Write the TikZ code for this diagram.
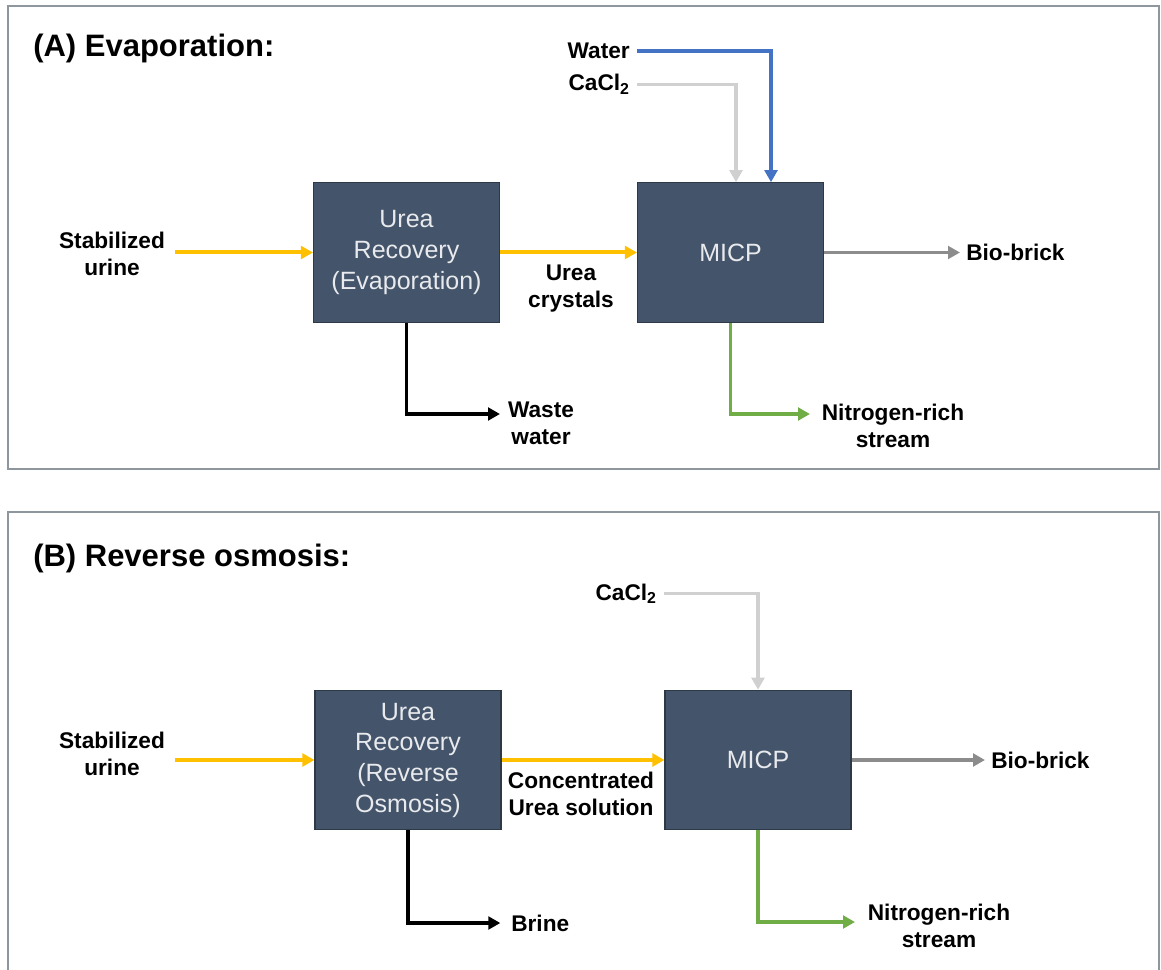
\documentclass[tikz,border=0pt]{standalone}
\usepackage{fontspec}
\setmainfont{Liberation Sans}
\usetikzlibrary{arrows.meta,calc}
\definecolor{boxfill}{HTML}{44546A}
\definecolor{boxline}{HTML}{2E3947}
\definecolor{frameclr}{HTML}{8E969E}
\definecolor{yel}{HTML}{FFC000}
\definecolor{blu}{HTML}{4472C4}
\definecolor{lgr}{HTML}{D0D0D0}
\definecolor{mgr}{HTML}{8C8C8C}
\definecolor{grn}{HTML}{70AD47}
\definecolor{boxtext}{HTML}{E8EAED}
\begin{document}
\begin{tikzpicture}[x=0.75pt,y=-0.75pt,
  procbox/.style={draw=boxline, line width=0.8pt, fill=boxfill, text=boxtext,
    minimum width=139.5pt, minimum height=104.6pt, inner sep=0pt, align=center,
    font=\fontsize{18.75}{23}\selectfont},
  lbl/.style={align=center, inner sep=0pt, font=\bfseries\fontsize{17}{20.25}\selectfont},
  ttl/.style={anchor=west, inner sep=0pt, font=\bfseries\fontsize{23.25}{28}\selectfont},
  flow/.style={line width=2.6pt, -{Triangle[length=9pt,width=9.5pt]}},
  yflow/.style={flow, draw=yel, line width=3pt},
  bflow/.style={flow, draw=blu, line width=3pt},
  lgflow/.style={flow, draw=lgr},
  grayflow/.style={flow, draw=mgr},
  kflow/.style={flow, draw=black},
  gflow/.style={flow, draw=grn},
  panel/.style={draw=frameclr, line width=1.8pt}
]
\useasboundingbox (0,0) rectangle (1161,970);
\clip (0,0) rectangle (1161,970);

% panel frames
\draw[panel] (8,6) rectangle (1159,469);
\draw[panel] (8,990) -- (8,512) -- (1159,512) -- (1159,990);

% ---------- Panel A ----------
\node[ttl] (ttlA) at (33,48) {(A) Evaporation:};
\node[procbox] (recA) at (406.5,252.5) {Urea\\Recovery\\(Evaporation)};
\node[procbox] (micpA) at (730.5,252.5) {MICP};

\node[lbl] (suA) at (112,253.5) {Stabilized\\urine};
\node[lbl] (ucA) at (571,288.5) {Urea\\crystals};
\node[lbl, anchor=west] (bbA) at (966,252.5) {Bio-brick};
\node[lbl] (wwA) at (541,423.5) {Waste\\water};
\node[lbl] (nrA) at (893,425.5) {Nitrogen-rich\\stream};
\node[lbl, anchor=base east] (watA) at (630,59) {Water};
\node[lbl, anchor=base east] (caA) at (630,91) {CaCl\textsubscript{2}};

\coordinate (yA0) at (175,252.5);
\coordinate (wwA0) at (500,414);
\coordinate (nrA0) at (810,414);

\draw[yflow] (yA0) -- (recA.west);
\draw[yflow] (recA.east) -- (micpA.west);
\draw[grayflow, shorten >=4.5pt] (micpA.east) -- (micpA.east -| bbA.west);
\draw[kflow] (recA.south) |- (wwA0);
\draw[gflow] (micpA.south) |- (nrA0);
\draw[lgflow, shorten <=5.5pt] (caA.east) -| ($(micpA.north)+(5.5,0)$);
\draw[bflow, shorten <=5.5pt] (watA.east) -| ($(micpA.north)+(40.5,0)$);

% ---------- Panel B ----------
\node[ttl] (ttlB) at (33,558) {(B) Reverse osmosis:};
\node[procbox] (recB) at (408,760) {Urea\\Recovery\\(Reverse\\Osmosis)};
\node[procbox] (micpB) at (758,760) {MICP};

\node[lbl] (suB) at (112,753.5) {Stabilized\\urine};
\node[lbl] (concB) at (581,794) {Concentrated\\Urea solution};
\node[lbl, anchor=west] (bbB) at (991,760) {Bio-brick};
\node[lbl, anchor=west] (brB) at (511,923) {Brine};
\node[lbl] (nrB) at (939,926) {Nitrogen-rich\\stream};
\node[lbl, anchor=base east] (caB) at (657,600) {CaCl\textsubscript{2}};

\coordinate (yB0) at (175,760);
\coordinate (nrB0) at (855,922);

\draw[yflow] (yB0) -- (recB.west);
\draw[yflow] (recB.east) -- (micpB.west);
\draw[grayflow, shorten >=4.5pt] (micpB.east) -- (micpB.east -| bbB.west);
\draw[kflow, shorten >=8pt] (recB.south) |- (brB.west);
\draw[gflow] (micpB.south) |- (nrB0);
\draw[lgflow, shorten <=5pt] (caB.east) -| (micpB.north);
\end{tikzpicture}
\end{document}
